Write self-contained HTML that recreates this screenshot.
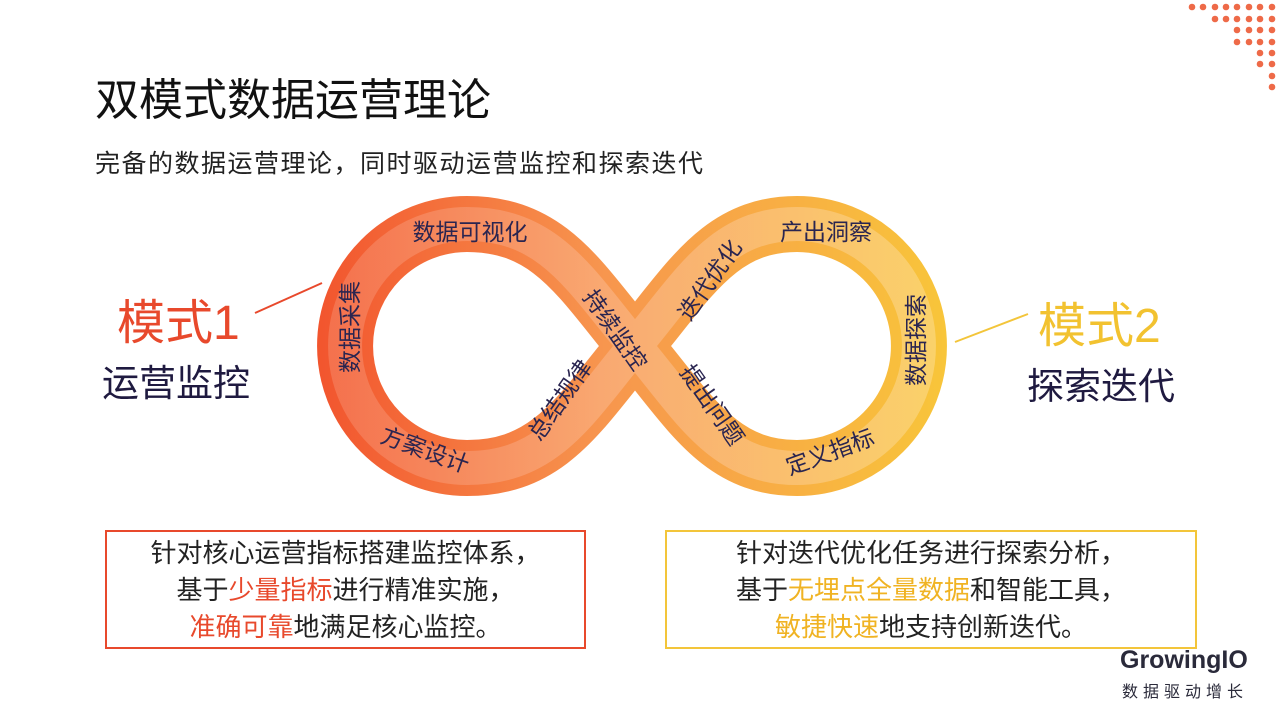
<!DOCTYPE html>
<html><head><meta charset="utf-8"><style>
body{margin:0;width:1280px;height:720px;background:#fff;position:relative;overflow:hidden;font-family:"Liberation Sans","Noto Sans CJK SC",sans-serif;color:#1a1a1a}
.a{position:absolute;white-space:nowrap}
.box{position:absolute;box-sizing:border-box;border:2px solid;text-align:center;font-size:26px;line-height:37px;padding-top:3px;color:#222}
</style></head><body>
<div class="a" style="left:95px;top:64px;font-size:44px;color:#111">双模式数据运营理论</div>
<div class="a" style="left:95px;top:144px;font-size:25px;letter-spacing:1.5px;color:#222">完备的数据运营理论，同时驱动运营监控和探索迭代</div>
<svg class="a" style="left:0;top:0" width="1280" height="720">
<defs><linearGradient id="g" x1="318" y1="0" x2="945" y2="0" gradientUnits="userSpaceOnUse">
<stop offset="0" stop-color="#f2552e"/><stop offset="0.45" stop-color="#f7954e"/><stop offset="1" stop-color="#f8c53a"/></linearGradient>
<linearGradient id="g2" x1="318" y1="0" x2="945" y2="0" gradientUnits="userSpaceOnUse">
<stop offset="0" stop-color="#f7896a"/><stop offset="0.5" stop-color="#fbc098"/><stop offset="1" stop-color="#fde09a"/></linearGradient></defs>
<path d="M635,346 C690,280 720,224 797,224 A122 122 0 0 1 797,468 C720,468 690,412 635,346 C580,280 550,224 467,224 A122 122 0 0 0 467,468 C550,468 580,412 635,346Z" fill="none" stroke="url(#g)" stroke-width="56"/>
<path d="M635,346 C690,280 720,224 797,224 A122 122 0 0 1 797,468 C720,468 690,412 635,346 C580,280 550,224 467,224 A122 122 0 0 0 467,468 C550,468 580,412 635,346Z" fill="none" stroke="url(#g2)" stroke-width="34" opacity="0.5"/>
<line x1="255" y1="313" x2="322" y2="283" stroke="#e8492c" stroke-width="2"/>
<line x1="955" y1="342" x2="1028" y2="314" stroke="#f3c53a" stroke-width="2"/>
<g font-size="23" fill="#2a2550" text-anchor="middle" dominant-baseline="central" font-family="Liberation Sans,Noto Sans CJK SC,sans-serif">
<text x="470" y="232">数据可视化</text>
<text transform="translate(350,327) rotate(-90)">数据采集</text>
<text transform="translate(425,450) rotate(20)">方案设计</text>
<text transform="translate(560,400) rotate(-55)">总结规律</text>
<text transform="translate(615,330) rotate(55)">持续监控</text>
<text transform="translate(710,280) rotate(-55)">迭代优化</text>
<text x="826" y="232">产出洞察</text>
<text transform="translate(916,340) rotate(-90)">数据探索</text>
<text transform="translate(712,405) rotate(55)">提出问题</text>
<text transform="translate(830,452) rotate(-20)">定义指标</text>
</g>
<g fill="#ee6a48">
<circle cx="1192" cy="7" r="3.3"/><circle cx="1203" cy="7" r="3.3"/><circle cx="1215" cy="7" r="3.3"/><circle cx="1226" cy="7" r="3.3"/><circle cx="1237" cy="7" r="3.3"/><circle cx="1249" cy="7" r="3.3"/><circle cx="1260" cy="7" r="3.3"/><circle cx="1272" cy="7" r="3.3"/>
<circle cx="1215" cy="19" r="3.3"/><circle cx="1226" cy="19" r="3.3"/><circle cx="1237" cy="19" r="3.3"/><circle cx="1249" cy="19" r="3.3"/><circle cx="1260" cy="19" r="3.3"/><circle cx="1272" cy="19" r="3.3"/>
<circle cx="1237" cy="30" r="3.3"/><circle cx="1249" cy="30" r="3.3"/><circle cx="1260" cy="30" r="3.3"/><circle cx="1272" cy="30" r="3.3"/>
<circle cx="1237" cy="42" r="3.3"/><circle cx="1249" cy="42" r="3.3"/><circle cx="1260" cy="42" r="3.3"/><circle cx="1272" cy="42" r="3.3"/>
<circle cx="1260" cy="53" r="3.3"/><circle cx="1272" cy="53" r="3.3"/>
<circle cx="1260" cy="64" r="3.3"/><circle cx="1272" cy="64" r="3.3"/>
<circle cx="1272" cy="76" r="3.3"/><circle cx="1272" cy="87" r="3.3"/>
</g>
</svg>
<div class="a" style="left:117px;top:283px;font-size:48px;color:#e8492c">模式1</div>
<div class="a" style="left:102px;top:353px;font-size:37px;color:#1f1a40">运营监控</div>
<div class="a" style="left:1038px;top:286px;font-size:48px;color:#f2c230">模式2</div>
<div class="a" style="left:1027px;top:356px;font-size:37px;color:#1f1a40">探索迭代</div>
<div class="box" style="left:105px;top:530px;width:481px;height:119px;border-color:#e8492c">针对核心运营指标搭建监控体系，<br>基于<span style="color:#e8492c">少量指标</span>进行精准实施，<br><span style="color:#e8492c">准确可靠</span>地满足核心监控。</div>
<div class="box" style="left:665px;top:530px;width:532px;height:119px;border-color:#f3c53a">针对迭代优化任务进行探索分析，<br>基于<span style="color:#f0b323">无埋点全量数据</span>和智能工具，<br><span style="color:#f0b323">敏捷快速</span>地支持创新迭代。</div>
<div class="a" style="left:1120px;top:646px;font-size:25px;font-weight:bold;color:#2a2a3a">GrowingIO</div>
<div class="a" style="left:1122px;top:678px;font-size:16px;letter-spacing:5px;color:#2a2a3a">数据驱动增长</div>
</body></html>
